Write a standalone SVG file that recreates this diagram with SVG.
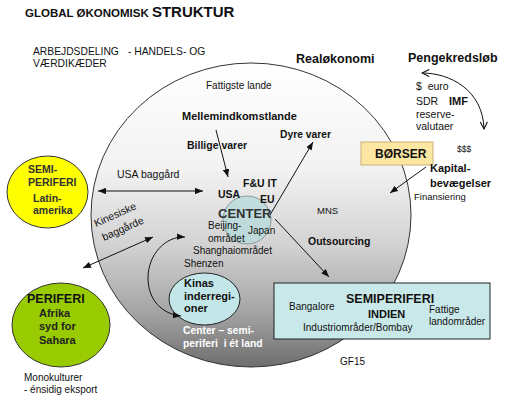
<svg xmlns="http://www.w3.org/2000/svg" width="506" height="408" viewBox="0 0 506 408">
<style>
text{font-family:"Liberation Sans",Arial,sans-serif;fill:#111;font-size:10px}
.b{font-weight:bold}
.w{fill:#ffffff}
.ln{stroke:#111;stroke-width:1;fill:none}
</style>
<defs>
<linearGradient id="g" x1="0" y1="0" x2="0" y2="1">
<stop offset="0" stop-color="#ffffff"/>
<stop offset="0.35" stop-color="#f2f2f2"/>
<stop offset="0.6" stop-color="#d2d2d2"/>
<stop offset="0.82" stop-color="#a4a4a4"/>
<stop offset="1" stop-color="#6e6e6e"/>
</linearGradient>
<marker id="a" viewBox="0 0 10 8" refX="10" refY="4" markerWidth="8" markerHeight="6.4" markerUnits="userSpaceOnUse" orient="auto-start-reverse">
<path d="M0,0 L10,4 L0,8 Z" fill="#111"/>
</marker>
<marker id="o" viewBox="0 0 10 10" refX="9" refY="5" markerWidth="9" markerHeight="9" markerUnits="userSpaceOnUse" orient="auto-start-reverse">
<path d="M1,1 L9,5 L1,9" fill="none" stroke="#111" stroke-width="1.2"/>
</marker>
</defs>
<rect width="506" height="408" fill="#ffffff"/>

<g id="title">
<text x="25" y="17" class="b" style="font-size:11.5px">GLOBAL ØKONOMISK <tspan style="font-size:15px">STRUKTUR</tspan></text>
<text x="33" y="55" style="font-size:10.3px">ARBEJDSDELING</text>
<text x="128" y="55" style="font-size:10.3px">- HANDELS- OG</text>
<text x="33" y="67" style="font-size:10.3px">VÆRDIKÆDER</text>
</g>

<g id="realokonomi">
<ellipse cx="251" cy="215" rx="160" ry="152" fill="url(#g)" stroke="#333" stroke-width="1"/>
<text x="296" y="63" class="b" style="font-size:12.5px">Realøkonomi</text>
<text x="206" y="89" style="font-size:10px">Fattigste lande</text>
<text x="182" y="120" class="b" style="font-size:11px">Mellemindkomstlande</text>
<text x="187" y="149" class="b" style="font-size:10.5px">Billige varer</text>
<text x="280" y="138" class="b" style="font-size:10.3px">Dyre varer</text>
<text x="117" y="178" style="font-size:10.5px">USA baggård</text>
<text transform="translate(96,227) rotate(-24)" style="font-size:10.5px">Kinesiske</text>
<text transform="translate(104,241) rotate(-24)" style="font-size:10.5px">baggårde</text>
<text x="317" y="214" style="font-size:9.5px">MNS</text>
<text x="308" y="245" class="b" style="font-size:10.5px">Outsourcing</text>
<text x="183" y="334" class="b w" style="font-size:10.3px">Center – semi-</text>
<text x="183" y="347" class="b w" style="font-size:10.3px" xml:space="preserve">periferi  i ét land</text>
</g>

<g id="center">
<circle cx="247" cy="220" r="24" fill="#b4d9da" fill-opacity="0.75" stroke="#8a9a9a" stroke-width="1"/>
<text x="243" y="187" class="b" style="font-size:10.5px">F&amp;U IT</text>
<text x="218" y="198" class="b" style="font-size:10.5px">USA</text>
<text x="260" y="203" class="b" style="font-size:10.5px">EU</text>
<text x="218" y="218" class="b" style="font-size:13px;fill:#333">CENTER</text>
<text x="208" y="229" style="font-size:10px">Beijing-</text>
<text x="208" y="242" style="font-size:10px">området</text>
<text x="248" y="234" style="font-size:10px">Japan</text>
<text x="193" y="254" style="font-size:10px">Shanghaiområdet</text>
<text x="184" y="267" style="font-size:10px">Shenzen</text>
</g>

<g id="kinas">
<ellipse cx="204.5" cy="299" rx="35.5" ry="26" fill="#c3e6e8" stroke="#222" stroke-width="1"/>
<text x="184" y="287" class="b" style="font-size:11px">Kinas</text>
<text x="184" y="300" class="b" style="font-size:11px">inderregi-</text>
<text x="184" y="312" class="b" style="font-size:11px">oner</text>
</g>

<g id="semiperiferi-latin">
<ellipse cx="47.5" cy="192" rx="40.5" ry="36" fill="#ffff00" stroke="#333" stroke-width="1"/>
<text x="28" y="173" class="b" style="font-size:10.5px;fill:#333">SEMI-</text>
<text x="28" y="186" class="b" style="font-size:10.5px;fill:#333">PERIFERI</text>
<text x="33" y="202" class="b" style="font-size:10.5px;fill:#333">Latin-</text>
<text x="33" y="214" class="b" style="font-size:10.5px;fill:#333">amerika</text>
</g>

<g id="periferi">
<ellipse cx="61" cy="325" rx="49" ry="42" fill="#99cc00" stroke="#333" stroke-width="1"/>
<text x="27" y="303" class="b" style="font-size:12.5px">PERIFERI</text>
<text x="39" y="317" class="b" style="font-size:11px;fill:#222">Afrika</text>
<text x="39" y="330" class="b" style="font-size:11px;fill:#222">syd for</text>
<text x="39" y="344" class="b" style="font-size:11px;fill:#222">Sahara</text>
<text x="24" y="381" style="font-size:10px">Monokulturer</text>
<text x="24" y="393" style="font-size:10px">- énsidig eksport</text>
</g>

<g id="semiperiferi-indien">
<rect x="274" y="283" width="216" height="56" fill="#c9e8ea" stroke="#222" stroke-width="1"/>
<text x="346" y="303" class="b" style="font-size:12.5px">SEMIPERIFERI</text>
<text x="289" y="310" style="font-size:10px">Bangalore</text>
<text x="368" y="318" class="b" style="font-size:11px">INDIEN</text>
<text x="303" y="331" style="font-size:10px">Industriområder/Bombay</text>
<text x="429" y="313" style="font-size:10px">Fattige</text>
<text x="429" y="325" style="font-size:10px">landområder</text>
</g>

<g id="pengekredslob">
<text x="408" y="62" class="b" style="font-size:12.5px">Pengekredsløb</text>
<text x="416" y="90" style="font-size:10.5px" xml:space="preserve">$  euro</text>
<text x="416" y="105" style="font-size:10.5px">SDR</text>
<text x="449" y="105" class="b" style="font-size:11px">IMF</text>
<text x="416" y="118" style="font-size:10.5px">reserve-</text>
<text x="416" y="130" style="font-size:10.5px">valutaer</text>
<text x="457" y="152" style="font-size:8.5px">$$$</text>
</g>

<g id="borser">
<rect x="361" y="142" width="72" height="23" fill="#fbe6a2" stroke="#c9b27a" stroke-width="1"/>
<text x="375" y="158" class="b" style="font-size:12px">BØRSER</text>
<text x="430" y="172" class="b" style="font-size:11px">Kapital-</text>
<text x="430" y="187" class="b" style="font-size:11px">bevægelser</text>
<text x="414" y="200" style="font-size:9.5px">Finansiering</text>
</g>

<g id="GF15">
<text x="340" y="365" style="font-size:10px">GF15</text>
</g>

<g id="connectors">
<path class="ln" d="M216,130 L228,177" marker-end="url(#a)"/>
<path class="ln" d="M270,215 L313,142" marker-end="url(#a)"/>
<path class="ln" d="M275,219 L329,277" marker-end="url(#a)"/>
<path class="ln" d="M98,191 L203,191" marker-start="url(#a)" marker-end="url(#a)"/>
<path class="ln" d="M83,268 L153,237" marker-start="url(#a)" marker-end="url(#a)"/>
<path class="ln" d="M185,237 C165,236 148,255 148,278 C148,300 162,314 181,316" marker-start="url(#a)" marker-end="url(#a)"/>
<path class="ln" d="M426,167 L390,193" marker-end="url(#a)"/>
<path class="ln" d="M422,73 C450,73 483,90 484,129" marker-start="url(#o)" marker-end="url(#o)"/>
</g>
</svg>
